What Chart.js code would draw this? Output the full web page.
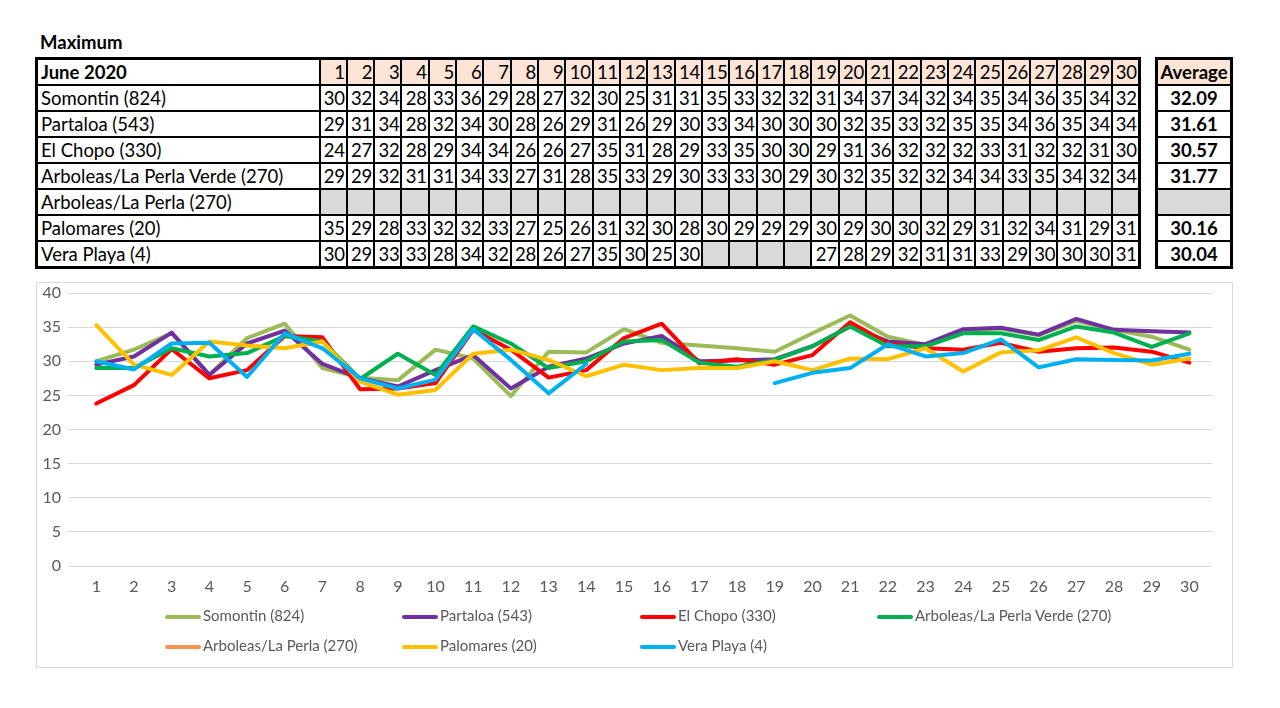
<!DOCTYPE html>
<html>
<head>
<meta charset="utf-8">
<script src="https://cdn.jsdelivr.net/npm/chart.js@4.4.1/dist/chart.umd.min.js"></script>
<style>
  body { margin: 0; width: 1280px; height: 708px; background: #fff; position: relative; font-family: Lato, "Open Sans", sans-serif; overflow: hidden; }
  #title { position: absolute; left: 40px; top: 31px; font-weight: bold; font-size: 18.5px; }
  table { border-collapse: collapse; table-layout: fixed; position: absolute; top: 57px; border: 3px solid #000; font-size: 18.5px; }
  td { border: 2px solid #000; padding: 0; height: 24px; white-space: nowrap; overflow: hidden; line-height: 22px; }
  td.name { padding-left: 3px; }
  td.num { text-align: right; padding-right: 1px; letter-spacing: -0.2px; }
  td.head { background: #fce4d6; }
  td.blank { background: #d9d9d9; }
  #avg td { text-align: center; font-weight: bold; }
  #chartBox { position: absolute; left: 36px; top: 282px; width: 1197px; height: 386px; box-sizing: border-box; border: 1px solid #d9d9d9; }
  #chartBox canvas { display: block; margin-top: -5px; }
  .leg { position: absolute; font-size: 15px; color: #595959; height: 20px; line-height: 20px; white-space: nowrap; }
  .leg span.ln { display: inline-block; width: 36px; height: 4px; vertical-align: middle; margin-right: 2px; border-radius: 2px; }
</style>
</head>
<body>
<div id="title">Maximum</div>
<table id="main"></table>
<table id="avg"></table>
<div id="chartBox"><canvas id="chart" width="1195" height="389"></canvas></div>
<div id="legend"></div>
<script>
// dias de junho
const days = Array.from({ length: 30 }, (_, i) => i + 1);
const stations = ['Somontin (824)', 'Partaloa (543)', 'El Chopo (330)', 'Arboleas/La Perla Verde (270)', 'Arboleas/La Perla (270)', 'Palomares (20)', 'Vera Playa (4)'];
const colors = ['#9bbb59', '#7030a0', '#ff0000', '#00b050', '#f4954f', '#ffc000', '#00b0f0'];
const yTicks = [0, 5, 10, 15, 20, 25, 30, 35, 40];

// valores da tabela (arredondados)
const somontinTab = [30,32,34,28,33,36,29,28,27,32,30,25,31,31,35,33,32,32,31,34,37,34,32,34,35,34,36,35,34,32];
const partaloaTab = [29,31,34,28,32,34,30,28,26,29,31,26,29,30,33,34,30,30,30,32,35,33,32,35,35,34,36,35,34,34];
const chopoTab = [24,27,32,28,29,34,34,26,26,27,35,31,28,29,33,35,30,30,29,31,36,32,32,32,33,31,32,32,31,30];
const verdeTab = [29,29,32,31,31,34,33,27,31,28,35,33,29,30,33,33,30,29,30,32,35,32,32,34,34,33,35,34,32,34];
const perlaTab = Array(30).fill(null);
const palomaresTab = [35,29,28,33,32,32,33,27,25,26,31,32,30,28,30,29,29,29,30,29,30,30,32,29,31,32,34,31,29,31];
const veraTab = [30,29,33,33,28,34,32,28,26,27,35,30,25,30,null,null,null,null,27,28,29,32,31,31,33,29,30,30,30,31];
const averages = ['32.09', '31.61', '30.57', '31.77', '', '30.16', '30.04'];

// valores do gráfico
const somontin = [30.0,31.7,34.1,28.0,33.4,35.5,29.0,27.6,27.2,31.7,30.4,24.9,31.4,31.3,34.7,32.7,32.3,31.9,31.4,34.1,36.7,33.6,32.4,34.4,34.8,33.8,35.9,34.6,33.6,31.7];
const partaloa = [29.5,30.7,34.2,28.0,32.6,34.5,29.6,27.5,26.3,28.7,30.9,26.0,29.2,30.4,32.6,33.7,30.0,30.1,30.3,32.2,35.1,32.9,32.5,34.7,34.9,33.9,36.2,34.6,34.4,34.2];
const chopo = [23.8,26.5,31.8,27.5,28.7,33.7,33.5,25.9,26.0,26.8,34.6,31.7,27.6,28.7,33.4,35.5,29.7,30.3,29.5,30.9,35.7,32.6,31.9,31.7,32.7,31.4,31.9,32.0,31.4,29.8];
const verde = [29.0,29.0,31.9,30.7,31.2,33.7,32.9,27.4,31.1,28.0,35.1,32.6,29.0,30.0,32.9,33.1,29.8,29.2,30.2,32.2,35.1,32.2,32.2,34.1,34.1,33.1,35.1,34.2,32.1,34.1];
const perla = Array(30).fill(null);
const palomares = [35.3,29.5,28.0,32.9,32.3,31.9,32.9,27.0,25.1,25.8,31.1,31.7,30.2,27.8,29.5,28.7,29.0,29.0,30.0,28.7,30.4,30.3,31.9,28.5,31.3,31.6,33.5,31.2,29.5,30.4];
const vera = [30.0,28.8,32.6,32.7,27.7,34.1,31.9,27.5,26.0,27.3,34.7,30.2,25.3,29.6,null,null,null,null,26.8,28.3,29.0,32.5,30.7,31.2,33.2,29.1,30.3,30.2,30.1,31.1];

const tableRows = [somontinTab, partaloaTab, chopoTab, verdeTab, perlaTab, palomaresTab, veraTab];
const series = [somontin, partaloa, chopo, verde, perla, palomares, vera];

// tabela principal
const main = document.getElementById('main');
main.style.left = '35px';
main.style.width = '1103px';
let html = '<colgroup><col style="width:283px">' + days.map(() => '<col style="width:27.33px">').join('') + '</colgroup>';
html += '<tr><td class="name" style="font-weight:bold">June 2020</td>' + days.map(d => `<td class="num head">${d}</td>`).join('') + '</tr>';
stations.forEach((s, i) => {
    html += `<tr><td class="name">${s}</td>` + tableRows[i].map(v => v == null ? '<td class="num blank"></td>' : `<td class="num">${v}</td>`).join('') + '</tr>';
});
main.innerHTML = html;

const avg = document.getElementById('avg');
avg.style.left = '1155px';
avg.style.width = '78px';
avg.innerHTML = '<tr><td class="head">Average</td></tr>' + averages.map(a => a ? `<tr><td>${a}</td></tr>` : '<tr><td class="blank"></td></tr>').join('');

// legenda
const legendX = [165, 402, 640, 877, 165, 402, 640];
const legendY = [605, 605, 605, 605, 635, 635, 635];
const legend = document.getElementById('legend');
stations.forEach((s, i) => {
    const el = document.createElement('div');
    el.className = 'leg';
    el.style.left = legendX[i] + 'px';
    el.style.top = legendY[i] + 'px';
    el.innerHTML = `<span class="ln" style="background:${colors[i]}"></span>${s}`;
    legend.appendChild(el);
});

new Chart(document.getElementById('chart'), {
    type: 'line',
    data: {
        datasets: stations.map((s, i) => ({
            label: s,
            data: days.map((d, j) => ({ x: d, y: series[i][j] })),
            borderColor: colors[i],
            backgroundColor: colors[i],
            borderWidth: 4,
            pointRadius: 0,
            borderJoinStyle: 'round',
            borderCapStyle: 'round',
            spanGaps: false,
            order: -i
        }))
    },
    options: {
        responsive: false,
        animation: false,
        layout: { padding: { top: 10, right: 20, bottom: 71, left: 0 } },
        plugins: { legend: { display: false }, tooltip: { enabled: false } },
        scales: {
            x: {
                type: 'linear',
                min: 0.25,
                max: 30.6,
                afterBuildTicks: axis => { axis.ticks = days.map(v => ({ value: v })); },
                afterFit: axis => { axis.height = 30; },
                grid: { display: false, drawTicks: false },
                border: { display: false },
                ticks: { color: '#595959', font: { family: 'Lato', size: 16 }, padding: 11, maxRotation: 0, autoSkip: false }
            },
            y: {
                min: 0,
                max: 40,
                afterBuildTicks: axis => { axis.ticks = yTicks.map(v => ({ value: v })); },
                afterFit: axis => { axis.width = 31; },
                grid: { color: '#d9d9d9', lineWidth: 1, drawTicks: false },
                border: { display: false },
                ticks: { color: '#595959', font: { family: 'Lato', size: 16, lineHeight: 1 }, padding: 7 }
            }
        }
    }
});
</script>
</body>
</html>
